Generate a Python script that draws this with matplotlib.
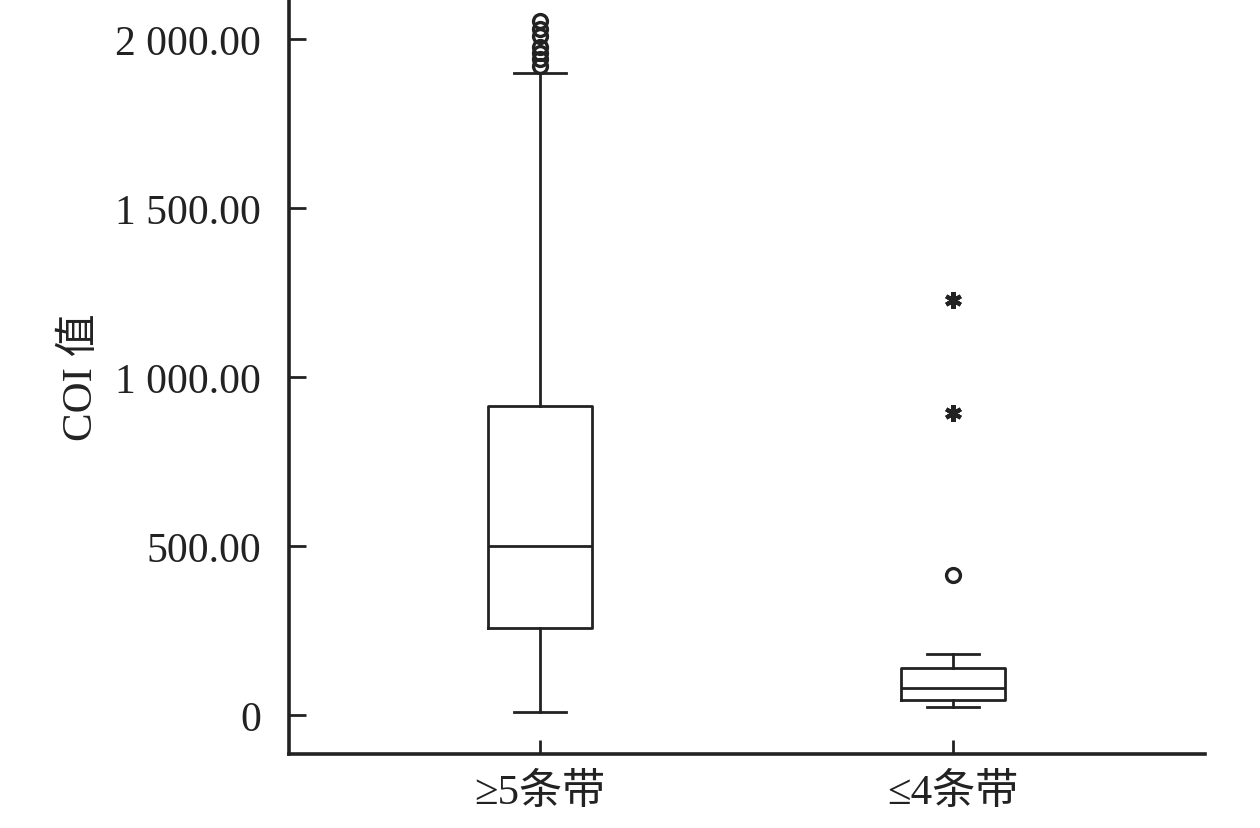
import matplotlib.pyplot as plt

plt.rcParams['font.family'] = ['Liberation Serif', 'Noto Sans CJK SC']

groups = ['≥5条带', '≤4条带']
whislo = [9, 24]
q1 = [257, 44]
med = [500, 80]
q3 = [914, 139]
whishi = [1899, 180]
# 异常值 (circles) and extreme values (stars)
fliers = [[1920, 1941, 1959, 1976, 2009, 2030, 2053], [414]]
extremes = [[], [893, 1228]]

stats = []
for i in range(len(groups)):
    stats.append(dict(label=groups[i], whislo=whislo[i], q1=q1[i], med=med[i],
                      q3=q3[i], whishi=whishi[i], fliers=fliers[i]))

fig = plt.figure(figsize=(12.6, 8.29), dpi=100)
ax = fig.add_axes([0.229, 0.0893, 0.727, 0.9107])

lc = '#222222'
lw = 2.0
ax.bxp(stats, positions=[1, 2], widths=0.252, showfliers=True,
       boxprops=dict(color=lc, linewidth=lw),
       medianprops=dict(color=lc, linewidth=lw),
       whiskerprops=dict(color=lc, linewidth=lw),
       capprops=dict(color=lc, linewidth=lw),
       flierprops=dict(marker='o', markersize=10, markerfacecolor='none',
                       markeredgecolor=lc, markeredgewidth=2.4))

for i, ev in enumerate(extremes):
    if ev:
        ax.plot([i + 1] * len(ev), ev, linestyle='none', marker=(6, 2, 0),
                markersize=12, markeredgewidth=3.0, color=lc)

ax.set_xlim(0.392, 2.61)
ax.set_ylim(-115, 2118)
ax.set_yticks([0, 500, 1000, 1500, 2000])
ax.set_yticklabels(['0', '500.00', '1 000.00', '1 500.00', '2 000.00'])
ax.set_xticks([1, 2])
ax.set_xticklabels(groups)

for s in ['top', 'right']:
    ax.spines[s].set_visible(False)
for s in ['left', 'bottom']:
    ax.spines[s].set_linewidth(2.6)
    ax.spines[s].set_color(lc)

ax.tick_params(axis='y', direction='in', length=12, width=2, color=lc,
               labelsize=30, pad=20, labelcolor=lc)
ax.tick_params(axis='x', direction='in', length=10, width=2, color=lc,
               labelsize=31, pad=14, labelcolor=lc)
ax.set_ylabel('COI 值', fontsize=31, color=lc, labelpad=10)

fig.savefig('out.png', dpi=100)
